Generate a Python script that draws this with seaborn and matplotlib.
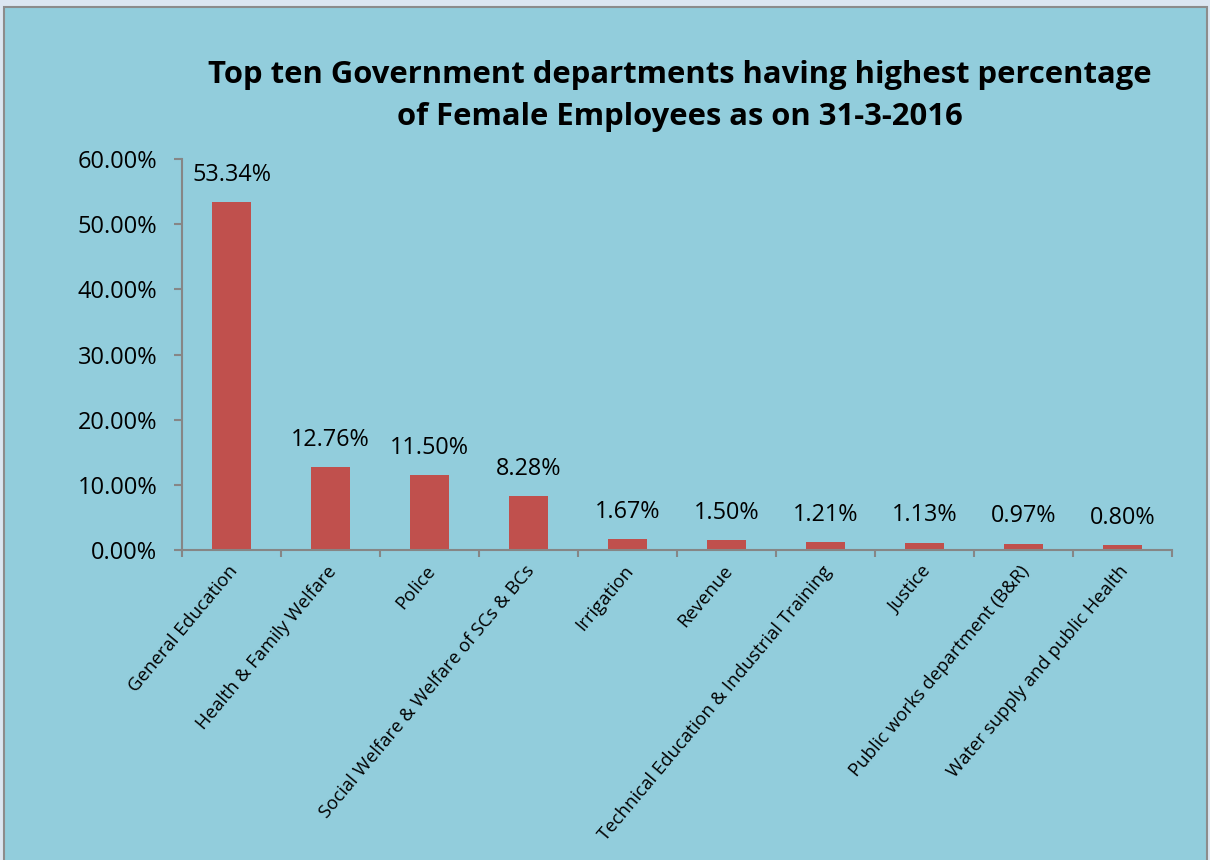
import matplotlib
matplotlib.use("Agg")
import matplotlib.pyplot as plt
import matplotlib.patches as mpatches
import matplotlib.ticker as mticker
import matplotlib.transforms as mtransforms
import seaborn as sns
import pandas as pd
import numpy as np

# Chart data
departments = [
    "General Education",
    "Health & Family Welfare",
    "Police",
    "Social Welfare & Welfare of SCs & BCs",
    "Irrigation",
    "Revenue",
    "Technical Education & Industrial Training",
    "Justice",
    "Public works department (B&R)",
    "Water supply and public Health",
]
female_pct = [53.34, 12.76, 11.50, 8.28, 1.67, 1.50, 1.21, 1.13, 0.97, 0.80]
y_ticks = [0, 10, 20, 30, 40, 50, 60]

df = pd.DataFrame({"Department": departments, "Pct": female_pct})

sns.set_style("white")
plt.rcParams["font.family"] = ["Open Sans", "DejaVu Sans"]
plt.rcParams["text.color"] = "black"
plt.rcParams["xtick.color"] = "black"
plt.rcParams["ytick.color"] = "black"

bg = "#92CDDC"
fig = plt.figure(figsize=(12.1, 8.6), dpi=100)
fig.patch.set_facecolor("#DCE6F1")

# chart area frame
frame = mpatches.Rectangle((4 / 1210, -0.01), 1203 / 1210, 1 - 7 / 860 + 0.01,
                           transform=fig.transFigure, facecolor=bg,
                           edgecolor="#8C8C8C", linewidth=1.5, zorder=-10)
fig.patches.append(frame)

ax = fig.add_axes([182 / 1210, 1 - 550 / 860, 990 / 1210, 391 / 860])
ax.patch.set_alpha(0)

sns.barplot(data=df, x="Department", y="Pct", color="#C0504D", width=0.4,
            saturation=1, linewidth=0, ax=ax)

ax.bar_label(ax.containers[0], labels=[f"{v:.2f}%" for v in female_pct],
             padding=11, fontsize=16.8, color="black")

ax.set_xlim(-0.5, len(departments) - 0.5)
ax.set_ylim(0, 60)
ax.set_yticks(y_ticks)
ax.yaxis.set_major_formatter(mticker.FuncFormatter(lambda v, p: f"{v:.2f}%"))

for s in ["top", "right"]:
    ax.spines[s].set_visible(False)
for s in ["left", "bottom"]:
    ax.spines[s].set_color("#868686")
    ax.spines[s].set_linewidth(1.5)

ax.tick_params(axis="y", left=True, length=5.8, width=1.5, color="#868686",
               labelcolor="black", labelsize=17, pad=12)
# category boundaries get the tick marks, centers get the labels
ax.set_xticks(np.arange(-0.5, len(departments), 1.0), minor=True)
ax.tick_params(axis="x", which="minor", bottom=True, length=5, width=1.5,
               color="#868686")
ax.tick_params(axis="x", which="major", bottom=False, length=0, pad=13,
               labelcolor="black", labelsize=13.3)
ax.set_xticks(range(len(departments)))
ax.set_xticklabels(departments, rotation=50, ha="right", va="center",
                   rotation_mode="anchor")
shift = mtransforms.ScaledTranslation(3 / 100, 0, fig.dpi_scale_trans)
for lbl in ax.get_xticklabels():
    lbl.set_transform(lbl.get_transform() + shift)
ax.set_xlabel("")
ax.set_ylabel("")

fig.text(680 / 1210, 1 - 96 / 860,
         "Top ten Government departments having highest percentage\n"
         "of Female Employees as on 31-3-2016",
         ha="center", va="center", fontsize=22.3, fontweight="bold",
         linespacing=1.55, color="black")

fig.savefig("out.png", dpi=100, facecolor=fig.get_facecolor())
